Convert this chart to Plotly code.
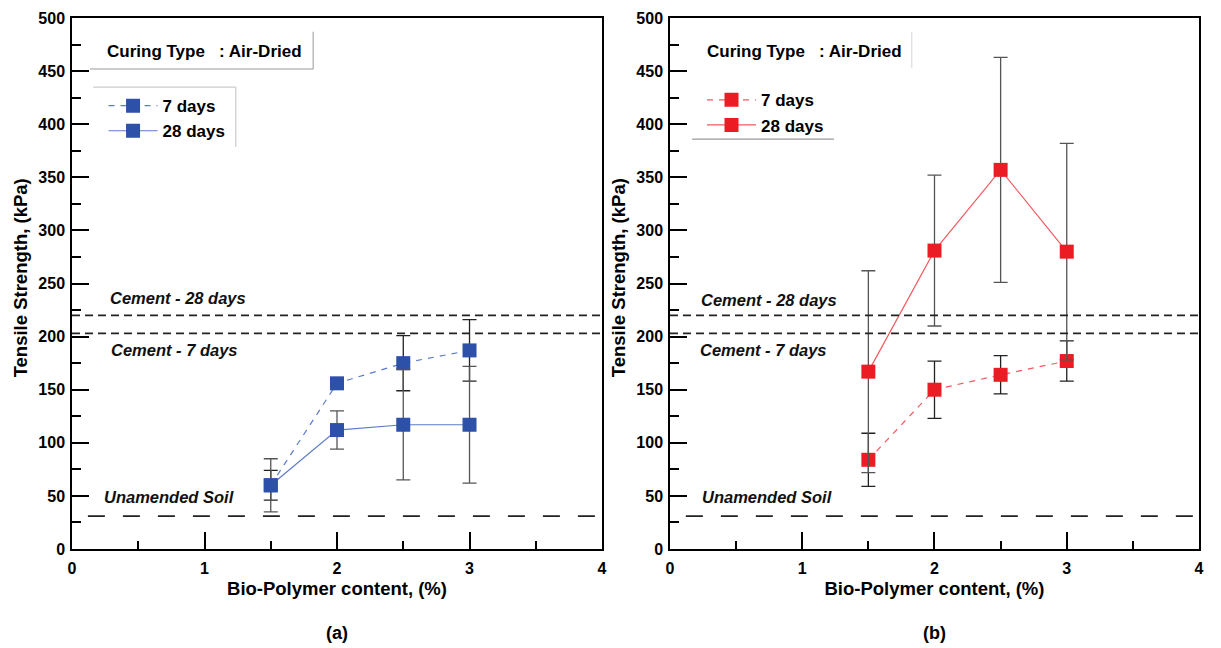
import plotly.graph_objects as go
from plotly.subplots import make_subplots

# ---------------- data ----------------
bp_content = [1.5, 2.0, 2.5, 3.0]

a_7d = [60, 156, 175, 187]
a_7d_err = [14, 3, 26, 29]
a_28d = [60, 112, 117, 117]
a_28d_err = [25, 18, 52, 55]

b_7d = [84, 150, 164, 177]
b_7d_err = [25, 27, 18, 19]
b_28d = [167, 281, 357, 280]
b_28d_err = [95, 71, 106, 102]

cement_28 = 220
cement_7 = 203
unamended = 31

ref_labels = ["Cement - 28 days", "Cement - 7 days", "Unamended Soil"]
series_names = ["7 days", "28 days"]
panel_labels = ["(a)", "(b)"]
x_title = "Bio-Polymer content, (%)"
y_title = "Tensile Strength, (kPa)"

FONT = "Arial, Liberation Sans, sans-serif"
BLUE = "#2D50A8"
BLUE_LINE = "#5C7BC9"
RED = "#EC1C24"
RED_LINE = "#F05A5F"

fig = make_subplots(rows=1, cols=2, horizontal_spacing=0.0603)
fig.update_xaxes(domain=[0, 0.4703], row=1, col=1)
fig.update_xaxes(domain=[0.5306, 1.0], row=1, col=2)


def add_series(col, y, err, color, linecolor, dash, name, legend, errcolor):
    fig.add_trace(go.Scatter(
        x=bp_content, y=y, mode="lines+markers", name=name,
        line=dict(color=linecolor, width=1.2, dash=dash),
        marker=dict(symbol="square", size=14, color=color,
                    line=dict(color=color, width=0)),
        error_y=dict(type="data", array=err, visible=True,
                     color=errcolor, thickness=1.3, width=7),
        legend=legend,
    ), row=1, col=col)


add_series(1, a_7d, a_7d_err, BLUE, BLUE_LINE, "6px,6px", series_names[0], "legend", "#222")
add_series(1, a_28d, a_28d_err, BLUE, BLUE_LINE, "solid", series_names[1], "legend", "#555")
add_series(2, b_7d, b_7d_err, RED, RED_LINE, "6px,6px", series_names[0], "legend2", "#222")
add_series(2, b_28d, b_28d_err, RED, RED_LINE, "solid", series_names[1], "legend2", "#555")

axis_common = dict(
    showline=True, linecolor="black", linewidth=1.5, mirror=True,
    ticks="inside", tickcolor="black", tickwidth=1.5, ticklen=17,
    tickfont=dict(family=FONT, size=16, color="black", weight="bold"),
    showgrid=False, zeroline=False,
)

for c in (1, 2):
    fig.update_xaxes(
        range=[0, 4], dtick=1, tick0=0, ticklabelstandoff=4,
        minor=dict(dtick=0.5, ticks="inside", ticklen=8, tickcolor="black", tickwidth=1.5),
        title=dict(text=x_title, standoff=6,
                   font=dict(family=FONT, size=18.5, color="black", weight="bold")),
        **axis_common, row=1, col=c)
    fig.update_yaxes(
        range=[0, 500], dtick=50, tick0=0, ticklabelstandoff=2,
        minor=dict(dtick=25, ticks="inside", ticklen=9, tickcolor="black", tickwidth=1.5),
        **axis_common, row=1, col=c)

# y-axis titles as rotated annotations (precise placement)
for px in (-0.046, 0.4845):
    fig.add_annotation(x=px, y=0.51, xref="paper", yref="paper", text=f"<b>{y_title}</b>",
                       textangle=-90, showarrow=False, xanchor="center", yanchor="middle",
                       font=dict(family=FONT, size=18.5, color="black"))

# reference lines
for xr, yr in (("x", "y"), ("x2", "y2")):
    xd = xr + " domain"
    fig.add_shape(type="line", xref=xd, yref=yr, x0=0, x1=1, y0=cement_28, y1=cement_28,
                  line=dict(color="#222", width=1.6, dash="8px,5px"))
    fig.add_shape(type="line", xref=xd, yref=yr, x0=0, x1=1, y0=cement_7, y1=cement_7,
                  line=dict(color="#222", width=1.6, dash="8px,5px"))
    fig.add_shape(type="line", xref=xd, yref=yr, x0=0.03, x1=1, y0=unamended, y1=unamended,
                  line=dict(color="#222", width=1.6, dash="17px,18px"))

# label positions (x in data units, y in data units)
lab_pos = {
    1: [(0.80, 236), (0.77, 187), (0.73, 49)],
    2: [(0.75, 234), (0.71, 187), (0.73, 49)],
}
for c, (xr, yr) in zip((1, 2), (("x", "y"), ("x2", "y2"))):
    for txt, (lx, ly) in zip(ref_labels, lab_pos[c]):
        fig.add_annotation(x=lx, y=ly, xref=xr, yref=yr, text=f"<b><i>{txt}</i></b>",
                           showarrow=False, font=dict(family=FONT, size=16.5, color="#111"))

# Curing type boxes
for xr, yr, tx in (("x", "y", 0.062), ("x2", "y2", 0.066)):
    fig.add_annotation(x=tx, y=0.936, xref=xr + " domain", yref=yr + " domain",
                       xanchor="left", yanchor="middle", showarrow=False,
                       text="<b>Curing Type&nbsp;&nbsp;&nbsp;: Air-Dried</b>",
                       font=dict(family=FONT, size=17, color="black"))

# decorative box edges
box_lines = [
    ("x", "y", 0.455, 0.974, 0.455, 0.904, "#aaa"),
    ("x", "y", 0.034, 0.904, 0.455, 0.904, "#999"),
    ("x", "y", 0.040, 0.870, 0.309, 0.870, "#ccc"),
    ("x", "y", 0.309, 0.870, 0.309, 0.757, "#ccc"),
    ("x2", "y2", 0.457, 0.974, 0.457, 0.906, "#ddd"),
    ("x2", "y2", 0.042, 0.772, 0.310, 0.772, "#999"),
]
for xr, yr, x0, y0, x1, y1, col in box_lines:
    fig.add_shape(type="line", xref=xr + " domain", yref=yr + " domain",
                  x0=x0, y0=y0, x1=x1, y1=y1, line=dict(color=col, width=1.2))

# panel labels
for txt, xr, yr in zip(panel_labels, ("x", "x2"), ("y", "y2")):
    fig.add_annotation(x=0.5, y=-0.181, xref=xr + " domain", yref=yr + " domain",
                       text=f"<b>{txt}</b>", showarrow=False,
                       font=dict(family=FONT, size=18, color="black"))

legend_common = dict(
    bgcolor="rgba(0,0,0,0)", borderwidth=0, xanchor="left", yanchor="top",
    font=dict(family=FONT, size=17, color="black", weight="bold"),
    tracegroupgap=0, itemwidth=49,
)

fig.update_layout(
    width=1205, height=640,
    margin=dict(l=64, r=14, t=10, b=99, autoexpand=False),
    paper_bgcolor="white", plot_bgcolor="white",
    showlegend=True,
    legend=dict(x=0.028, y=0.868, **legend_common),
    legend2=dict(x=0.559, y=0.879, **legend_common),
    font=dict(family=FONT),
)

fig.write_html("out.html")
